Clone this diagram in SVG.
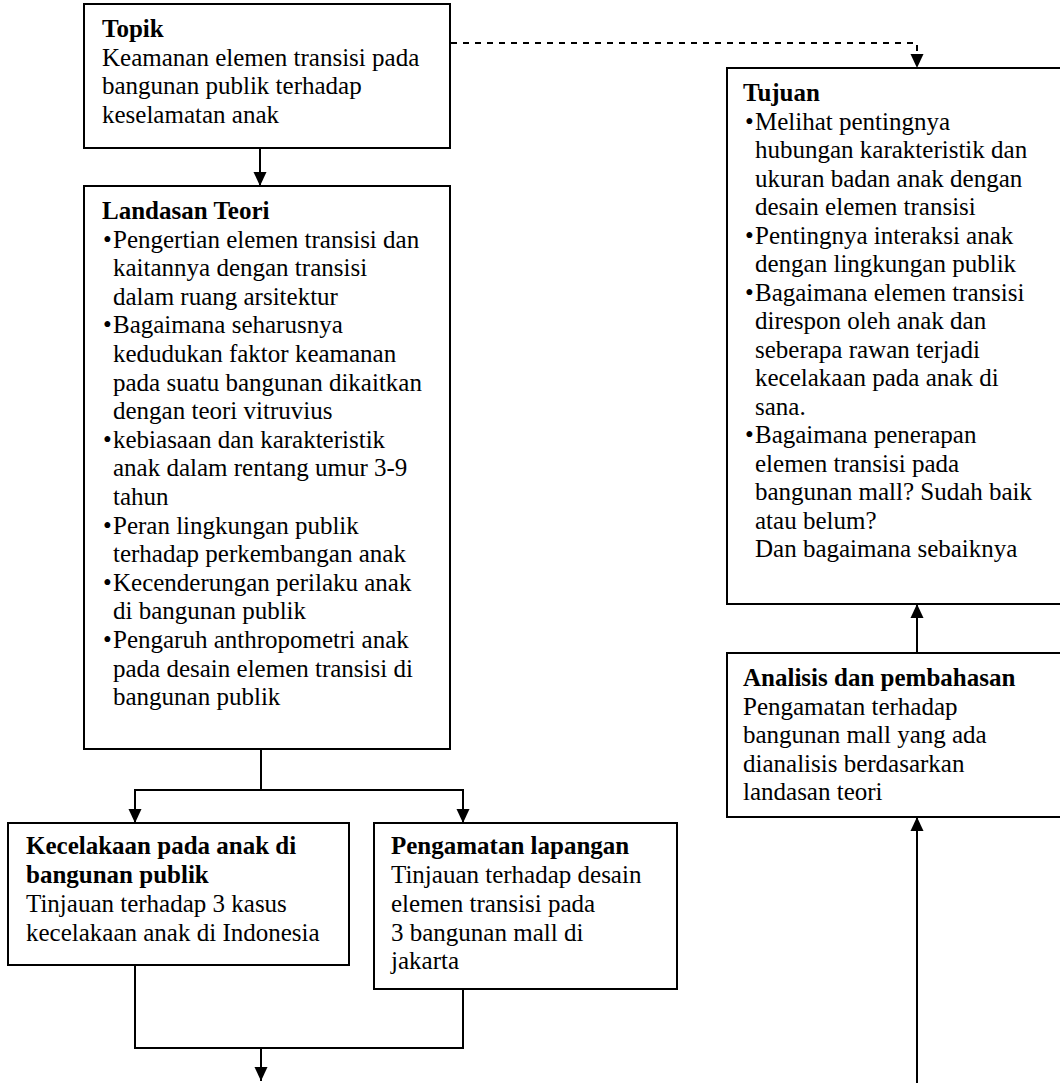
<svg xmlns="http://www.w3.org/2000/svg" width="1060" height="1083" viewBox="0 0 1060 1083">
<defs>
<style>
.box{fill:none;stroke:#000;stroke-width:2}
.t{font-family:"Liberation Serif","Times New Roman",serif;font-size:25px;fill:#000}
.b{font-weight:bold}
.c{fill:none;stroke:#000;stroke-width:2}
.d{stroke-dasharray:6 6}
</style>
<marker id="ah" markerWidth="14" markerHeight="14" refX="14" refY="7" orient="auto" markerUnits="userSpaceOnUse"><path d="M0,0.5 L14,7 L0,13.5 z" fill="#000"/></marker>
</defs>
<rect width="1060" height="1083" fill="#fff"/>
<g id="topik">
<rect class="box" x="84" y="4" width="366" height="144"/>
<text class="t"><tspan class="b" x="102" y="37">Topik</tspan><tspan x="102" y="65.5">Keamanan elemen transisi pada</tspan><tspan x="102" y="94">bangunan publik terhadap</tspan><tspan x="102" y="122.5">keselamatan anak</tspan></text>
</g>
<g id="landasan">
<rect class="box" x="84" y="186" width="366" height="563"/>
<text class="t"><tspan class="b" x="102" y="219">Landasan Teori</tspan>
<tspan x="103" y="247.6">•</tspan><tspan x="113" y="247.6">Pengertian elemen transisi dan</tspan>
<tspan x="113" y="276.2">kaitannya dengan transisi</tspan>
<tspan x="113" y="304.8">dalam ruang arsitektur</tspan>
<tspan x="103" y="333.4">•</tspan><tspan x="113" y="333.4">Bagaimana seharusnya</tspan>
<tspan x="113" y="362">kedudukan faktor keamanan</tspan>
<tspan x="113" y="390.6">pada suatu bangunan dikaitkan</tspan>
<tspan x="113" y="419.2">dengan teori vitruvius</tspan>
<tspan x="103" y="447.8">•</tspan><tspan x="113" y="447.8">kebiasaan dan karakteristik</tspan>
<tspan x="113" y="476.4">anak dalam rentang umur 3-9</tspan>
<tspan x="113" y="505">tahun</tspan>
<tspan x="103" y="533.6">•</tspan><tspan x="113" y="533.6">Peran lingkungan publik</tspan>
<tspan x="113" y="562.2">terhadap perkembangan anak</tspan>
<tspan x="103" y="590.8">•</tspan><tspan x="113" y="590.8">Kecenderungan perilaku anak</tspan>
<tspan x="113" y="619.4">di bangunan publik</tspan>
<tspan x="103" y="648">•</tspan><tspan x="113" y="648">Pengaruh anthropometri anak</tspan>
<tspan x="113" y="676.6">pada desain elemen transisi di</tspan>
<tspan x="113" y="705.2">bangunan publik</tspan></text>
</g>
<g id="tujuan">
<rect class="box" x="727" y="68" width="345" height="536"/>
<text class="t"><tspan class="b" x="743" y="101">Tujuan</tspan>
<tspan x="745" y="129.5">•</tspan><tspan x="755" y="129.5">Melihat pentingnya</tspan>
<tspan x="755" y="158">hubungan karakteristik dan</tspan>
<tspan x="755" y="186.5">ukuran badan anak dengan</tspan>
<tspan x="755" y="215">desain elemen transisi</tspan>
<tspan x="745" y="243.5">•</tspan><tspan x="755" y="243.5">Pentingnya interaksi anak</tspan>
<tspan x="755" y="272">dengan lingkungan publik</tspan>
<tspan x="745" y="300.5">•</tspan><tspan x="755" y="300.5">Bagaimana elemen transisi</tspan>
<tspan x="755" y="329">direspon oleh anak dan</tspan>
<tspan x="755" y="357.5">seberapa rawan terjadi</tspan>
<tspan x="755" y="386">kecelakaan pada anak di</tspan>
<tspan x="755" y="414.5">sana.</tspan>
<tspan x="745" y="443">•</tspan><tspan x="755" y="443">Bagaimana penerapan</tspan>
<tspan x="755" y="471.5">elemen transisi pada</tspan>
<tspan x="755" y="500">bangunan mall? Sudah baik</tspan>
<tspan x="755" y="528.5">atau belum?</tspan>
<tspan x="755" y="557">Dan bagaimana sebaiknya</tspan></text>
</g>
<g id="analisis">
<rect class="box" x="727" y="653" width="345" height="164"/>
<text class="t"><tspan class="b" x="743" y="686">Analisis dan pembahasan</tspan><tspan x="743" y="714.5">Pengamatan terhadap</tspan><tspan x="743" y="743">bangunan mall yang ada</tspan><tspan x="743" y="771.5">dianalisis berdasarkan</tspan><tspan x="743" y="800">landasan teori</tspan></text>
</g>
<g id="kecelakaan">
<rect class="box" x="8" y="823" width="341" height="142"/>
<text class="t"><tspan class="b" x="26" y="854">Kecelakaan pada anak di</tspan><tspan class="b" x="26" y="883">bangunan publik</tspan><tspan x="26" y="912">Tinjauan terhadap 3 kasus</tspan><tspan x="26" y="941">kecelakaan anak di Indonesia</tspan></text>
</g>
<g id="pengamatan">
<rect class="box" x="374" y="823" width="303" height="166"/>
<text class="t"><tspan class="b" x="391" y="854">Pengamatan lapangan</tspan><tspan x="391" y="883">Tinjauan terhadap desain</tspan><tspan x="391" y="912">elemen transisi pada</tspan><tspan x="391" y="940.5">3 bangunan mall di</tspan><tspan x="391" y="969">jakarta</tspan></text>
</g>
<g id="connectors">
<path class="c" d="M260,148 V186" marker-end="url(#ah)"/>
<path class="c d" d="M451,43 H917 V68" marker-end="url(#ah)"/>
<path class="c" d="M261,749 V790 H135 V823" marker-end="url(#ah)"/>
<path class="c" d="M261,790 H463 V823" marker-end="url(#ah)"/>
<path class="c" d="M135,965 V1048 H463 V989"/>
<path class="c" d="M261,1048 V1081" marker-end="url(#ah)"/>
<path class="c" d="M917,1083 V817" marker-end="url(#ah)"/>
<path class="c" d="M917,653 V604" marker-end="url(#ah)"/>
</g>
</svg>
